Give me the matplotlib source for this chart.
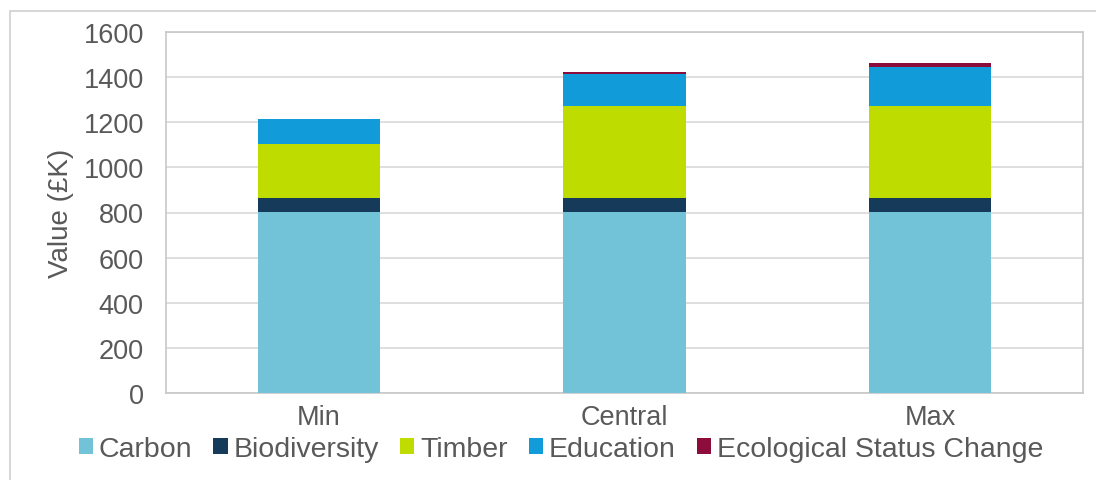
import matplotlib
matplotlib.use("Agg")
import matplotlib.pyplot as plt
from matplotlib.patches import Rectangle, Patch
import numpy as np

plt.rcParams["font.family"] = ["Liberation Sans", "DejaVu Sans"]

# ---- data (£K) ----
scenarios = ["Min", "Central", "Max"]
carbon = [802, 802, 802]
biodiversity = [62, 62, 62]
timber = [240, 407, 407]
education = [112, 143, 173]
eco_status = [0, 10, 19]

series = [
    ("Carbon", carbon, "#72C3D7"),
    ("Biodiversity", biodiversity, "#163A59"),
    ("Timber", timber, "#BFDC00"),
    ("Education", education, "#119BD8"),
    ("Ecological Status Change", eco_status, "#8C0D3C"),
]

TXT = "#595959"
W, H = 1096, 481

fig = plt.figure(figsize=(W / 100, H / 100), dpi=100)
ax = fig.add_axes([166 / W, 1 - 394 / H, (1083 - 166) / W, (394 - 33) / H])

x = np.arange(len(scenarios))
bottom = np.zeros(len(scenarios))
for name, vals, col in series:
    ax.bar(x, vals, width=0.4, bottom=bottom, color=col, label=name, zorder=3)
    bottom += np.array(vals)

ax.set_xlim(-0.5, len(scenarios) - 0.5)
ax.set_ylim(0, 1600)
ax.set_yticks(range(0, 1601, 200))
ax.set_xticks(x)
ax.set_xticklabels(scenarios)
ax.tick_params(length=0, labelsize=19.5, colors=TXT)
ax.tick_params(axis="y", pad=16)
ax.tick_params(axis="x", pad=8)
ax.grid(axis="y", color="#D9D9D9", lw=1.2, zorder=0)
for sp in ax.spines.values():
    sp.set_color("#C8C8C8")
    sp.set_linewidth(1.2)
ax.set_ylabel("Value (£K)", fontsize=20, color=TXT, labelpad=7)

# outer chart frame (cropped at right/bottom)
fig.patches.append(Rectangle((10 / W, -0.1), 1.2, 1 - 12 / H + 0.1,
                             transform=fig.transFigure, fill=False,
                             edgecolor="#D0D0D0", lw=1.2))

handles = [Patch(facecolor=c, edgecolor="none") for _, _, c in series]
fig.legend(handles, [s[0] for s in series], loc="center",
           bbox_to_anchor=(561 / W, 1 - 450 / H), ncol=5, frameon=False,
           fontsize=20.5, labelcolor=TXT, handlelength=0.5, handleheight=0.5,
           handletextpad=0.2, columnspacing=0.75, borderaxespad=0)

fig.savefig("out.png", dpi=100)
